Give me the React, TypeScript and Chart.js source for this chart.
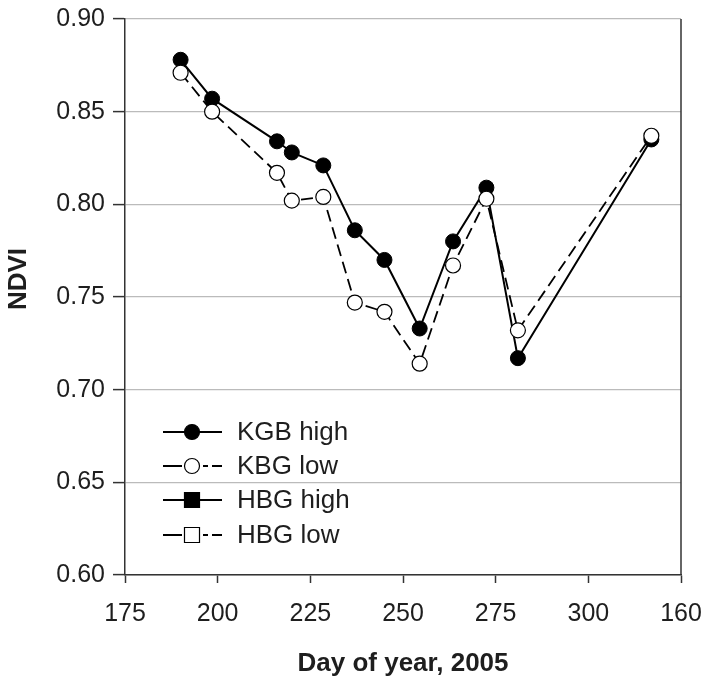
import React, { useEffect, useRef } from "react";
import { Chart, registerables } from "chart.js";

Chart.register(...registerables);

// ---- data ----
const days = [190, 198.5, 216, 220, 228.5, 237, 245, 254.5, 263.5, 272.5, 281, 317];
const kgbHigh = [0.878, 0.857, 0.834, 0.828, 0.821, 0.786, 0.77, 0.733, 0.78, 0.809, 0.717, 0.835];
const kbgLow = [0.871, 0.85, 0.817, 0.802, 0.804, 0.747, 0.742, 0.714, 0.767, 0.803, 0.732, 0.837];
const hbgHigh: number[] = [];
const hbgLow: number[] = [];
const seriesNames = ["KGB high", "KBG low", "HBG high", "HBG low"];
const xTickLabels = ["175", "200", "225", "250", "275", "300", "160"];
const yTickLabels = ["0.60", "0.65", "0.70", "0.75", "0.80", "0.85", "0.90"];
const xTitle = "Day of year, 2005";
const yTitle = "NDVI";

const FONT = "'Liberation Sans', Arial, Helvetica, sans-serif";
const INK = "#1e1e1e";
const AXIS = "#333";

const toPoints = (xs: number[], ys: number[]) => ys.map((y, i) => ({ x: xs[i], y }));

const frameAndLegend = {
  id: "frameAndLegend",
  afterDraw(chart: any) {
    const { ctx, chartArea } = chart;
    ctx.save();
    // right border
    ctx.strokeStyle = AXIS;
    ctx.lineWidth = 1.5;
    ctx.setLineDash([]);
    ctx.beginPath();
    ctx.moveTo(chartArea.right, chartArea.top);
    ctx.lineTo(chartArea.right, chartArea.bottom);
    ctx.stroke();

    // y title
    ctx.save();
    ctx.translate(19, 279);
    ctx.rotate(-Math.PI / 2);
    ctx.font = `bold 26px ${FONT}`;
    ctx.fillStyle = INK;
    ctx.textAlign = "center";
    ctx.textBaseline = "middle";
    ctx.fillText(yTitle, 0, 0);
    ctx.restore();

    // legend
    const rows = [432, 466, 500, 535];
    const x0 = 163, x1 = 222, mx = 192;
    rows.forEach((y, i) => {
      const low = i % 2 === 1;
      const square = i >= 2;
      ctx.strokeStyle = "#000";
      ctx.lineWidth = low ? 1.8 : 2;
      ctx.beginPath();
      if (low) {
        ctx.moveTo(x0, y); ctx.lineTo(182, y);
        ctx.moveTo(203, y); ctx.lineTo(208, y);
        ctx.moveTo(212, y); ctx.lineTo(x1, y);
      } else {
        ctx.moveTo(x0, y); ctx.lineTo(x1, y);
      }
      ctx.stroke();
      ctx.fillStyle = low ? "#fff" : "#000";
      ctx.lineWidth = 1.2;
      ctx.beginPath();
      if (square) {
        ctx.rect(mx - 7.5, y - 7.5, 15, 15);
      } else {
        ctx.arc(mx, y, 7.5, 0, Math.PI * 2);
      }
      ctx.fill();
      ctx.stroke();
      ctx.fillStyle = INK;
      ctx.font = `26px ${FONT}`;
      ctx.textAlign = "left";
      ctx.textBaseline = "middle";
      ctx.fillText(seriesNames[i], 237, y + 1);
    });
    ctx.restore();
  },
};

export default function App() {
  const ref = useRef<HTMLCanvasElement | null>(null);

  useEffect(() => {
    if (!ref.current) return;
    const chart = new Chart(ref.current, {
      type: "line",
      data: {
        datasets: [
          {
            label: seriesNames[0],
            data: toPoints(days, kgbHigh),
            borderColor: "#000",
            borderWidth: 2,
            pointRadius: 7.5,
            pointBackgroundColor: "#000",
            pointBorderColor: "#000",
            pointBorderWidth: 1,
            order: 2,
          },
          {
            label: seriesNames[1],
            data: toPoints(days, kbgLow),
            borderColor: "#000",
            borderWidth: 1.8,
            borderDash: [12, 6],
            pointRadius: 7.5,
            pointBackgroundColor: "#fff",
            pointBorderColor: "#000",
            pointBorderWidth: 1.2,
            order: 1,
          },
          {
            label: seriesNames[2],
            data: toPoints(days, hbgHigh),
            borderColor: "#000",
            borderWidth: 2,
            pointStyle: "rect",
            pointRadius: 7.5,
            pointBackgroundColor: "#000",
          },
          {
            label: seriesNames[3],
            data: toPoints(days, hbgLow),
            borderColor: "#000",
            borderWidth: 1.8,
            borderDash: [12, 6],
            pointStyle: "rect",
            pointRadius: 7.5,
            pointBackgroundColor: "#fff",
          },
        ],
      },
      options: {
        animation: false,
        responsive: true,
        maintainAspectRatio: false,
        layout: { padding: { top: 19, right: 26, left: 0, bottom: 0 } },
        plugins: { legend: { display: false }, tooltip: { enabled: false } },
        scales: {
          x: {
            type: "linear",
            min: 175,
            max: 325,
            afterFit: (s: any) => {
              s.height = 104;
              s.paddingLeft = 0;
              s.paddingRight = 0;
            },
            ticks: {
              stepSize: 25,
              autoSkip: false,
              maxRotation: 0,
              padding: 16,
              color: INK,
              font: { family: FONT, size: 25 },
              callback: (_v: any, i: number) => xTickLabels[i],
            },
            grid: { drawOnChartArea: false, drawTicks: true, tickLength: 8, tickColor: AXIS, tickWidth: 1.5 },
            border: { color: AXIS, width: 1.5 },
            title: {
              display: true,
              text: xTitle,
              color: INK,
              font: { family: FONT, size: 26, weight: "bold" },
              padding: { top: 0, bottom: 0 },
            },
          },
          y: {
            type: "linear",
            min: 0.6,
            max: 0.9,
            afterFit: (s: any) => {
              s.width = 125;
              s.paddingTop = 0;
              s.paddingBottom = 0;
            },
            ticks: {
              stepSize: 0.05,
              autoSkip: false,
              padding: 8,
              color: INK,
              font: { family: FONT, size: 25 },
              callback: (_v: any, i: number) => yTickLabels[i],
            },
            grid: { color: "#bbbbbb", lineWidth: 1.2, tickColor: AXIS, tickLength: 12, tickWidth: 1.5 },
            border: { color: AXIS, width: 1.5 },
          },
        },
      },
      plugins: [frameAndLegend],
    });
    return () => chart.destroy();
  }, []);

  return (
    <div style={{ position: "fixed", left: 0, top: 0, width: 707, height: 679, background: "#fff" }}>
      <canvas ref={ref} />
    </div>
  );
}
